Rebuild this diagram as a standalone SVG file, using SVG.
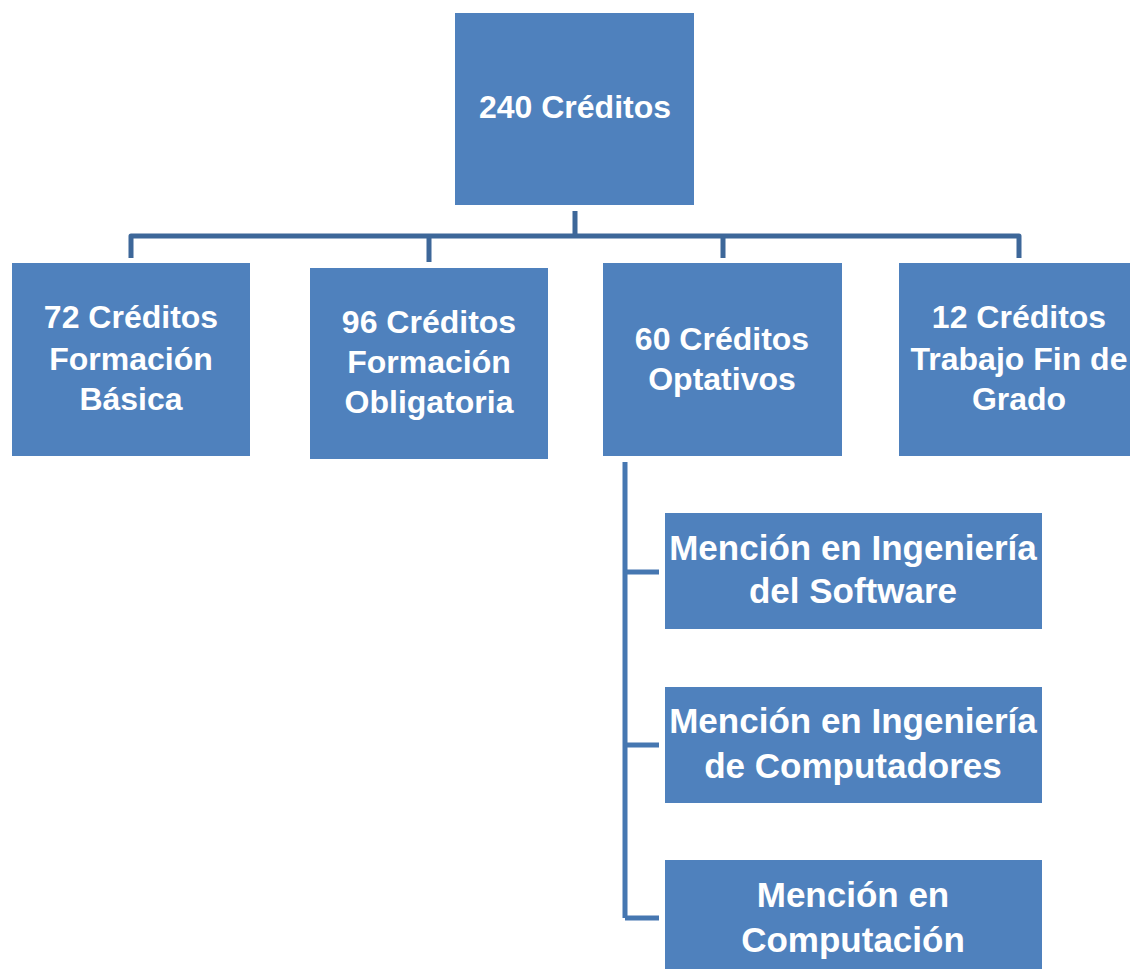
<svg xmlns="http://www.w3.org/2000/svg" width="1130" height="969" viewBox="0 0 1130 969">
<style>
.box{fill:#4F81BD}
.t{font-family:"Liberation Sans",Arial,sans-serif;font-weight:bold;font-size:32px;fill:#FFFFFF;text-anchor:middle}
.tm{font-size:35px}
.c{fill:none;stroke:#3D6799;stroke-width:5;stroke-linejoin:round}
.c2{fill:none;stroke:#4677B1;stroke-width:5;stroke-linejoin:round}
</style>
<rect width="1130" height="969" fill="#FFFFFF"/>
<g id="connectors">
<path class="c" d="M575,211 V237 M131,258 V236 H1019 V258 M429,262 V238 M723,258 V238"/>
<path class="c2" d="M625,462 V918 M625,572 H659 M625,745 H659 M625,918 H659"/>
</g>
<g id="n240">
<rect class="box" x="455" y="13" width="239" height="192"/>
<text class="t" x="575" y="118">240 Créditos</text>
</g>
<g id="n72">
<rect class="box" x="12" y="263" width="238" height="193"/>
<text class="t" x="131" y="328">72 Créditos</text>
<text class="t" x="131" y="370">Formación</text>
<text class="t" x="131" y="410">Básica</text>
</g>
<g id="n96">
<rect class="box" x="310" y="268" width="238" height="191"/>
<text class="t" x="429" y="333">96 Créditos</text>
<text class="t" x="429" y="373">Formación</text>
<text class="t" x="429" y="413">Obligatoria</text>
</g>
<g id="n60">
<rect class="box" x="603" y="263" width="239" height="193"/>
<text class="t" x="722" y="350">60 Créditos</text>
<text class="t" x="722" y="390">Optativos</text>
</g>
<g id="n12">
<rect class="box" x="899" y="263" width="240" height="193"/>
<text class="t" x="1019" y="328">12 Créditos</text>
<text class="t" x="1019" y="370">Trabajo Fin de</text>
<text class="t" x="1019" y="410">Grado</text>
</g>
<g id="mSoftware">
<rect class="box" x="665" y="513" width="377" height="116"/>
<text class="t tm" x="853" y="560">Mención en Ingeniería</text>
<text class="t tm" x="853" y="603">del Software</text>
</g>
<g id="mComputadores">
<rect class="box" x="665" y="687" width="377" height="116"/>
<text class="t tm" x="853" y="733">Mención en Ingeniería</text>
<text class="t tm" x="853" y="778">de Computadores</text>
</g>
<g id="mComputacion">
<rect class="box" x="665" y="860" width="377" height="120"/>
<text class="t tm" x="853" y="907">Mención en</text>
<text class="t tm" x="853" y="952">Computación</text>
</g>
</svg>
